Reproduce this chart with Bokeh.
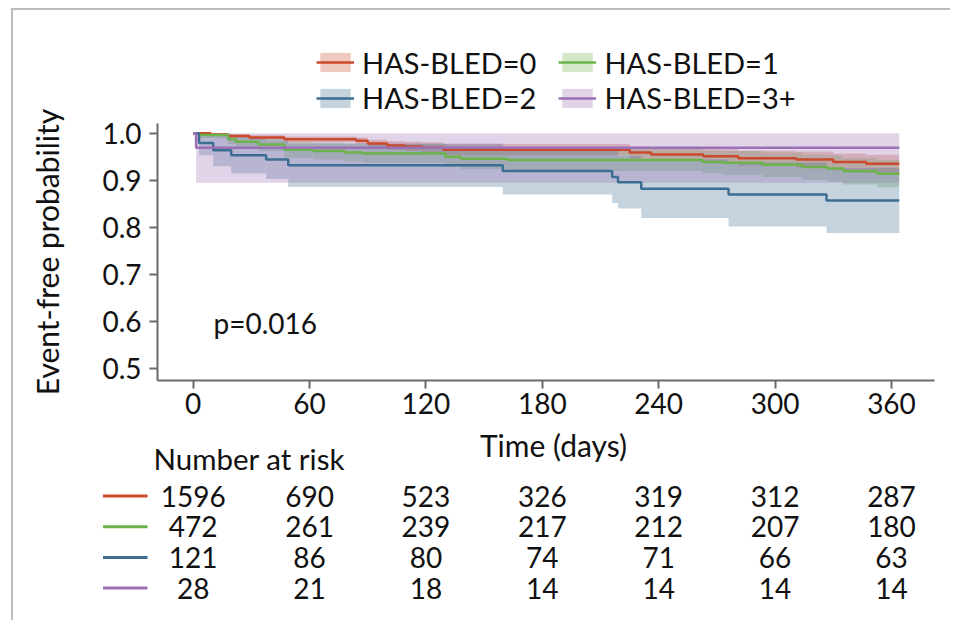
from bokeh.plotting import figure
from bokeh.models import (Range1d, Legend, LegendItem, Label, ColumnDataSource,
                          FixedTicker, PrintfTickFormatter)
from bokeh.layouts import column, row
from bokeh.embed import file_html
from bokeh.resources import INLINE

FONT = "Lato"

# ---------------- data ----------------
groups = ["HAS-BLED=0", "HAS-BLED=1", "HAS-BLED=2", "HAS-BLED=3+"]
colors = ["#cb4a2b", "#6db34c", "#3c6d92", "#9b70b5"]
end_day = 364

red_t = [0, 9, 18, 29, 47, 84, 90, 100, 109, 118, 129, 225, 236, 263, 281, 311, 330, 347]
red_s = [1.0, 0.997, 0.994, 0.991, 0.987, 0.984, 0.978, 0.974, 0.972, 0.969, 0.965, 0.959, 0.955, 0.951, 0.947, 0.944, 0.939, 0.935]
red_lo = [1.0, 0.994, 0.990, 0.986, 0.981, 0.977, 0.970, 0.965, 0.962, 0.958, 0.953, 0.946, 0.941, 0.936, 0.931, 0.927, 0.921, 0.916]
red_hi = [1.0, 1.0, 0.998, 0.996, 0.993, 0.991, 0.986, 0.983, 0.982, 0.980, 0.977, 0.972, 0.969, 0.966, 0.963, 0.961, 0.957, 0.954]

green_t = [0, 3, 18, 22, 33.5, 47, 62, 78, 87.5, 130, 138, 162, 262.6, 273, 293.5, 314, 327, 335, 352.7]
green_s = [1.0, 0.996, 0.987, 0.982, 0.976, 0.965, 0.962, 0.959, 0.957, 0.950, 0.946, 0.943, 0.939, 0.937, 0.933, 0.928, 0.925, 0.919, 0.914]
green_lo = [1.0, 0.990, 0.977, 0.970, 0.962, 0.948, 0.944, 0.940, 0.937, 0.929, 0.924, 0.920, 0.915, 0.912, 0.907, 0.901, 0.897, 0.891, 0.885]
green_hi = [1.0, 1.0, 0.997, 0.994, 0.990, 0.982, 0.980, 0.978, 0.977, 0.971, 0.968, 0.966, 0.963, 0.962, 0.959, 0.955, 0.953, 0.947, 0.943]

blue_t = [0, 3, 10.3, 19.6, 37.6, 49, 159.6, 216, 219, 231, 276, 326.5]
blue_s = [1.0, 0.979, 0.964, 0.953, 0.944, 0.932, 0.920, 0.907, 0.896, 0.882, 0.870, 0.857]
blue_lo = [1.0, 0.953, 0.930, 0.915, 0.903, 0.886, 0.870, 0.852, 0.840, 0.820, 0.802, 0.788]
blue_hi = [1.0, 1.0, 0.997, 0.991, 0.985, 0.978, 0.970, 0.962, 0.952, 0.944, 0.938, 0.926]

purple_t = [0, 1.5]
purple_s = [1.0, 0.969]
purple_lo = [1.0, 0.895]
purple_hi = [1.0, 1.0]

x_ticks = [0, 60, 120, 180, 240, 300, 360]
y_ticks = [0.5, 0.6, 0.7, 0.8, 0.9, 1.0]

risk_times = [0, 60, 120, 180, 240, 300, 360]
risk_red = [1596, 690, 523, 326, 319, 312, 287]
risk_green = [472, 261, 239, 217, 212, 207, 180]
risk_blue = [121, 86, 80, 74, 71, 66, 63]
risk_purple = [28, 21, 18, 14, 14, 14, 14]

p_text = "p=0.016"
x_title = "Time (days)"
y_title = "Event-free probability"
risk_title = "Number at risk"

# ---------------- layout constants (page pixels) ----------------
OX, OY = 13, 10            # content origin on page (inside the border)
LX = 73                    # page x where the main figures start
W_ALL = 937
W = W_ALL - (LX - OX)
PX0, PPD = 192.7, 1.9397   # x pixel of day 0, pixels per day
PY1, PPU = 132.7, 471.0    # y pixel of S=1, pixels per unit
SPLIT = 426                # page y where the table figure starts
BOTTOM = 620
H1 = SPLIT - OY
H2 = BOTTOM - SPLIT
F_LEFT, F_RIGHT, F_TOP, F_BOT = 157, 934, 20, 380
AX_TOP = 123
T_LEFT = 95                # page x where the table frame starts


def dx(px):
    return (px - PX0) / PPD


def dy(py):
    return 1 - (py - PY1) / PPU


def style(fig):
    fig.outline_line_color = None
    fig.grid.visible = False
    fig.background_fill_color = None
    fig.border_fill_color = None


def style_axis(ax):
    ax.axis_line_color = "#6a6a6a"
    ax.axis_line_width = 2
    ax.major_tick_line_color = "#6a6a6a"
    ax.major_tick_line_width = 2
    ax.major_tick_out = 8
    ax.major_tick_in = 0
    ax.minor_tick_out = 0
    ax.minor_tick_in = 0
    ax.major_label_text_font = FONT
    ax.major_label_text_font_size = "28px"
    ax.major_label_text_color = "#111111"
    ax.axis_label_text_font = FONT
    ax.axis_label_text_font_size = "30px"
    ax.axis_label_text_font_style = "normal"
    ax.axis_label_text_color = "#111111"


# ---------------- y-axis title strip (axis label centred on the axis extent) ----------------
p0 = figure(width=LX - OX, height=BOTTOM - OY,
            x_range=Range1d(0, 1), y_range=Range1d(dy(F_BOT), dy(AX_TOP)),
            output_backend="svg", toolbar_location=None,
            x_axis_location=None,
            min_border_left=LX - OX - 1, min_border_right=0,
            min_border_top=AX_TOP - OY, min_border_bottom=BOTTOM - F_BOT)
style(p0)
style_axis(p0.yaxis[0])
p0.yaxis.ticker = FixedTicker(ticks=[])
p0.yaxis.axis_line_color = None
p0.yaxis.major_tick_out = 0
p0.yaxis.axis_label = y_title
p0.yaxis.axis_label_standoff = 8

# ---------------- survival curves ----------------
p1 = figure(width=W, height=H1,
            x_range=Range1d(dx(F_LEFT), dx(F_RIGHT)),
            y_range=Range1d(dy(F_BOT), dy(F_TOP)),
            output_backend="svg", toolbar_location=None,
            min_border_left=F_LEFT - LX, min_border_right=W - (F_RIGHT - LX),
            min_border_top=F_TOP - OY, min_border_bottom=SPLIT - F_BOT)
style(p1)

series = [
    (red_t, red_s, red_lo, red_hi),
    (green_t, green_s, green_lo, green_hi),
    (blue_t, blue_s, blue_lo, blue_hi),
    (purple_t, purple_s, purple_lo, purple_hi),
]

band_r = []
for (t, s, lo, hi), c in zip(series, colors):
    src = ColumnDataSource(dict(t=t + [end_day], s=s + [s[-1]],
                                lo=lo + [lo[-1]], hi=hi + [hi[-1]]))
    band_r.append(p1.varea_step(x="t", y1="lo", y2="hi", step_mode="after",
                                source=src, fill_color=c, fill_alpha=0.3))
line_r = []
for (t, s, lo, hi), c in zip(series, colors):
    src = ColumnDataSource(dict(t=t + [end_day], s=s + [s[-1]]))
    line_r.append(p1.step(x="t", y="s", mode="after", source=src,
                          line_color=c, line_width=2.5))

items = [LegendItem(label=g, renderers=[b, l]) for g, b, l in zip(groups, band_r, line_r)]
for k, row_bottom in ((0, 79.5), (1, 115.0)):
    lg = Legend(items=items[2 * k:2 * k + 2], orientation="horizontal",
                location=(316 - F_LEFT, F_BOT - row_bottom),
                label_text_font=FONT, label_text_font_size="29px",
                label_text_color="#111111",
                glyph_width=38, glyph_height=24, label_standoff=8,
                spacing=22, padding=0, margin=0,
                border_line_color=None, background_fill_alpha=0)
    p1.add_layout(lg)

for ax in (p1.xaxis[0], p1.yaxis[0]):
    style_axis(ax)
p1.xaxis.ticker = FixedTicker(ticks=x_ticks)
p1.yaxis.ticker = FixedTicker(ticks=y_ticks)
p1.yaxis.formatter = PrintfTickFormatter(format="%.1f")
p1.yaxis.bounds = (dy(F_BOT), dy(AX_TOP))
p1.xaxis.major_label_standoff = 4
p1.yaxis.major_label_standoff = 8

p1.add_layout(Label(x=dx(213), y=dy(322.5), text=p_text, text_font=FONT,
                    text_font_size="28px", text_color="#111111",
                    text_baseline="middle"))

# ---------------- number at risk table ----------------
ROW0, PITCH = 495.5, 30.7


def rowpos(py):
    return 1 + (py - ROW0) / PITCH


p2 = figure(width=W, height=H2,
            x_range=Range1d(dx(T_LEFT), dx(F_RIGHT)),
            y_range=Range1d(rowpos(BOTTOM), rowpos(SPLIT)),
            output_backend="svg", toolbar_location=None,
            x_axis_location=None, y_axis_location=None,
            min_border_left=T_LEFT - LX, min_border_right=W - (F_RIGHT - LX),
            min_border_top=0, min_border_bottom=0)
style(p2)

p2.add_layout(Label(x=dx(553), y=rowpos(444.5), text=x_title, text_font=FONT,
                    text_font_size="30px", text_color="#111111",
                    text_align="center", text_baseline="middle"))
p2.add_layout(Label(x=dx(153), y=rowpos(458), text=risk_title, text_font=FONT,
                    text_font_size="29.5px", text_color="#111111",
                    text_baseline="middle"))

risks = [risk_red, risk_green, risk_blue, risk_purple]
xs, ys, txt = [], [], []
for r, vals in enumerate(risks, start=1):
    for t, v in zip(risk_times, vals):
        xs.append(t)
        ys.append(r)
        txt.append(str(v))
p2.text(x="x", y="y", text="t", source=ColumnDataSource(dict(x=xs, y=ys, t=txt)),
        text_align="center", text_baseline="middle", text_font_size="28px",
        text_color="#111111", text_font={"value": FONT})

rows = [1, 2, 3, 4]
p2.segment(x0=dx(102.5), x1=dx(147), y0="r", y1="r",
           source=ColumnDataSource(dict(r=rows, c=colors)),
           line_color="c", line_width=3)

# p2 is wrapped in its own row so its frame is not aligned with p1's frame
layout = row(p0, column(p1, row(p2, spacing=0), spacing=0), spacing=0,
             styles={"border-top": "2px solid #bdbdbd",
                     "border-left": "2px solid #bdbdbd",
                     "margin-top": "8px",
                     "margin-left": "11px"})

open("out.html", "w").write(file_html(layout, INLINE))
